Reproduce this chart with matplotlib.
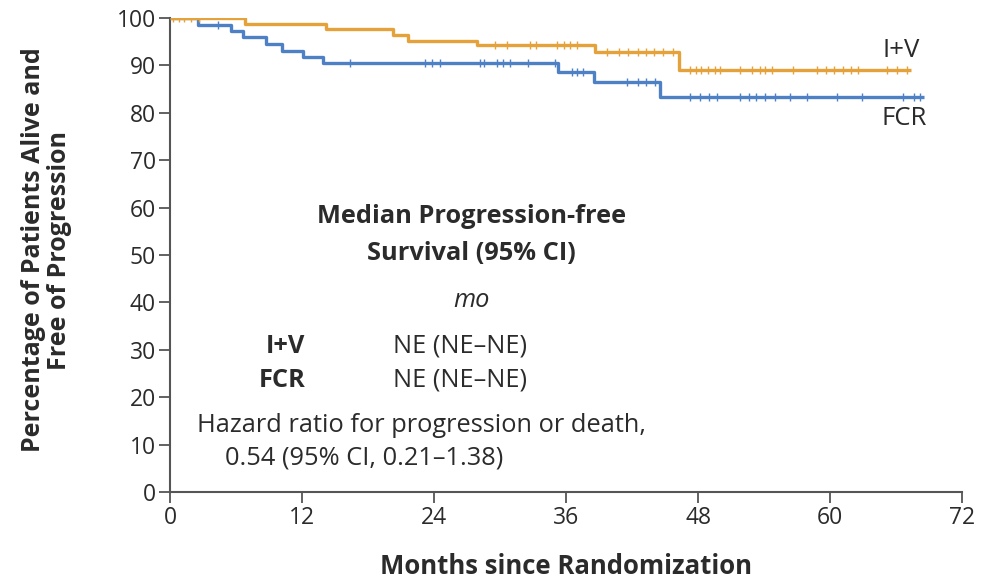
import matplotlib
matplotlib.use("Agg")
import matplotlib.pyplot as plt
import numpy as np

# ---- data ----
iv_times = [0, 6.8, 14.2, 20.3, 21.6, 27.9, 38.6, 46.3, 67.4]
iv_surv = [100, 98.7, 97.6, 96.5, 95.2, 94.3, 92.8, 89.0, 89.0]
iv_censor = [0.3, 0.8, 1.3, 1.9, 2.6, 29.5, 30.6, 32.7, 33.3, 35.2, 35.8, 36.4, 37.0,
             39.7, 40.8, 41.6, 42.5, 43.3, 44.0, 44.8, 45.7,
             47.3, 47.8, 48.3, 48.9, 49.5, 50.0, 51.8, 52.9, 53.6, 54.1, 54.7, 56.6,
             58.8, 59.6, 60.4, 61.2, 61.9, 62.5, 65.2, 66.1, 67.0]

fcr_times = [0, 2.5, 5.5, 6.6, 8.7, 10.2, 12.1, 13.9, 35.3, 38.5, 44.5, 68.5]
fcr_surv = [100, 98.6, 97.2, 95.9, 94.5, 93.1, 91.8, 90.5, 88.7, 86.6, 83.4, 83.4]
fcr_censor = [4.4, 16.4, 23.2, 23.8, 24.5, 28.2, 28.5, 29.7, 30.3, 30.9, 32.5, 35.0,
              36.5, 37.0, 37.5, 41.5, 42.5, 43.3, 44.1,
              47.3, 48.2, 49.0, 49.7, 51.8, 52.6, 53.3, 54.1, 55.0, 56.4, 57.9,
              60.6, 62.9, 66.6, 67.6, 68.2]

x_ticks = [0, 12, 24, 36, 48, 60, 72]
y_ticks = [0, 10, 20, 30, 40, 50, 60, 70, 80, 90, 100]

ORANGE = "#E6A23A"
BLUE = "#4E80C6"
AXC = "#555555"
TXT = "#2b2b2b"

plt.rcParams['font.family'] = ['Open Sans', 'DejaVu Sans']

fig = plt.figure(figsize=(9.9, 5.87), dpi=100)
ax = fig.add_axes([170/990, 1-492/587, (962-170)/990, (492-18)/587])


def step_val(times, surv, t):
    idx = np.searchsorted(times, t, side='right') - 1
    return np.asarray(surv)[idx]


for times, surv, cens, col in [(fcr_times, fcr_surv, fcr_censor, BLUE),
                               (iv_times, iv_surv, iv_censor, ORANGE)]:
    ax.step(times, surv, where='post', color=col, lw=2.4, solid_capstyle='butt', zorder=3)
    ax.plot(cens, step_val(times, surv, cens), linestyle='none', marker='|',
            markersize=6, mew=1.0, color=col, zorder=4)

ax.set_xlim(0, 72)
ax.set_ylim(0, 100)
ax.set_xticks(x_ticks)
ax.set_yticks(y_ticks)
ax.tick_params(axis='both', direction='out', length=8, width=1.3, color=AXC,
               labelsize=16.5, labelcolor=TXT, pad=2)
for s in ['top', 'right']:
    ax.spines[s].set_visible(False)
for s in ['left', 'bottom']:
    ax.spines[s].set_color(AXC)
    ax.spines[s].set_linewidth(1.5)
ax.spines['left'].set_bounds(0, 100)

ax.set_xlabel("Months since Randomization", fontsize=18.5, fontweight='bold', color=TXT, labelpad=17)
fig.text(0.047, 0.574, "Percentage of Patients Alive and\nFree of Progression",
         rotation=90, ha='center', va='center', fontsize=18, fontweight='bold',
         color=TXT, linespacing=1.05)

# curve labels
ax.text(68.2, 93.2, "I+V", ha='right', va='center', fontsize=18.5, color=TXT)
ax.text(68.8, 78.7, "FCR", ha='right', va='center', fontsize=18.5, color=TXT)

FS = 18.3
# inset text
ax.text(27.4, 58.1, "Median Progression-free", ha='center', va='center', fontsize=FS,
        fontweight='bold', color=TXT)
ax.text(27.4, 50.4, "Survival (95% CI)", ha='center', va='center', fontsize=FS,
        fontweight='bold', color=TXT)
ax.text(27.4, 40.5, "mo", ha='center', va='center', fontsize=FS, style='italic', color=TXT)
ax.text(12.3, 30.7, "I+V", ha='right', va='center', fontsize=FS, fontweight='bold', color=TXT)
ax.text(12.3, 23.6, "FCR", ha='right', va='center', fontsize=FS, fontweight='bold', color=TXT)
ax.text(20.3, 30.7, "NE (NE\u2013NE)", ha='left', va='center', fontsize=FS, color=TXT)
ax.text(20.3, 23.6, "NE (NE\u2013NE)", ha='left', va='center', fontsize=FS, color=TXT)
ax.text(2.45, 14.1, "Hazard ratio for progression or death,", ha='left', va='center',
        fontsize=FS, color=TXT)
ax.text(5.0, 7.2, "0.54 (95% CI, 0.21\u20131.38)", ha='left', va='center',
        fontsize=FS, color=TXT)

fig.savefig("out.png", dpi=100)
